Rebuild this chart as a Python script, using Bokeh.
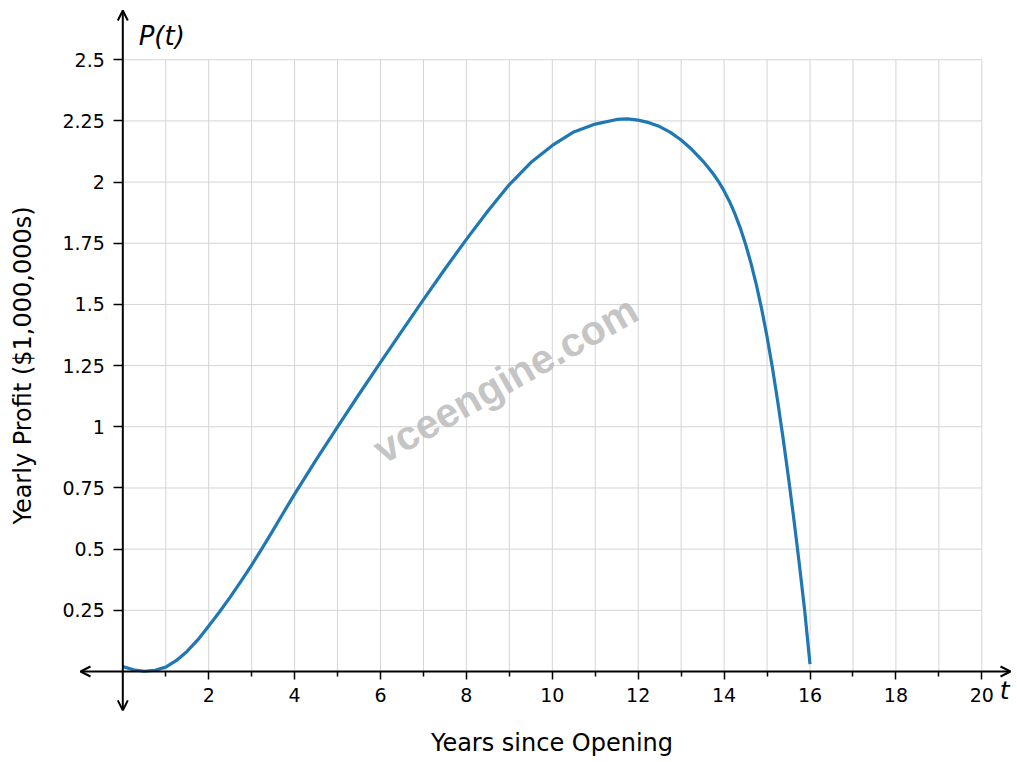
import numpy as np
from bokeh.plotting import figure
from bokeh.models import (Range1d, LinearAxis, FixedTicker, CustomJSTickFormatter,
                          Arrow, OpenHead)
from bokeh.core.properties import value
from bokeh.embed import file_html
from bokeh.resources import INLINE

# ---- data ----
t_years = [0, 0.25, 0.5, 0.75, 1, 1.25, 1.5, 1.75, 2, 2.25, 2.5, 2.75, 3, 3.25,
           3.5, 3.75, 4, 4.5, 5, 5.5, 6, 6.5, 7, 7.5, 8, 8.5, 9, 9.5, 10, 10.5,
           11, 11.5, 11.75, 12, 12.25, 12.5, 12.75, 13, 13.25, 13.5, 13.625,
           13.75, 13.875, 14, 14.125, 14.25, 14.375, 14.5, 14.625, 14.75, 14.875,
           15, 15.125, 15.25, 15.375, 15.5, 15.625, 15.75, 15.875, 16]
profit = [0.02, 0.007, 0.001, 0.005, 0.018, 0.045, 0.083, 0.13, 0.186, 0.243,
          0.304, 0.368, 0.435, 0.505, 0.578, 0.652, 0.725, 0.865, 1.0, 1.133,
          1.263, 1.392, 1.52, 1.645, 1.766, 1.882, 1.99, 2.08, 2.15, 2.205,
          2.237, 2.256, 2.258, 2.253, 2.243, 2.227, 2.203, 2.172, 2.133, 2.087,
          2.061, 2.033, 2.001, 1.964, 1.921, 1.871, 1.813, 1.746, 1.669, 1.581,
          1.481, 1.368, 1.241, 1.101, 0.951, 0.791, 0.621, 0.441, 0.251, 0.03]

x_major_ticks = [2, 4, 6, 8, 10, 12, 14, 16, 18, 20]
x_minor_ticks = [1, 3, 5, 7, 9, 11, 13, 15, 17, 19]
x_grid_values = list(range(1, 21))
y_ticks = [0.25, 0.5, 0.75, 1, 1.25, 1.5, 1.75, 2, 2.25, 2.5]
x_label = "Years since Opening"
y_label = "Yearly Profit ($1,000,000s)"
y_var_label = "P(t)"
x_var_label = "t"
watermark_text = "vceengine.com"

X_MAX = 20
Y_MAX = 2.5

W, H = 1017, 762
p = figure(width=W, height=H, output_backend="svg", toolbar_location=None,
           x_range=Range1d(-2.8475, 20.831), y_range=Range1d(-0.3719, 2.7421),
           x_axis_type=None, y_axis_type=None, min_border=0,
           background_fill_color="white", border_fill_color="white")
p.outline_line_color = None

# grid (bounded to the first quadrant box)
gx = np.array(x_grid_values, dtype=float)
p.segment(x0=gx, y0=np.zeros_like(gx), x1=gx, y1=np.full_like(gx, Y_MAX),
          line_color="#d4d4d4", line_width=1)
gy = np.array(y_ticks, dtype=float)
p.segment(x0=np.zeros_like(gy), y0=gy, x1=np.full_like(gy, X_MAX), y1=gy,
          line_color="#d4d4d4", line_width=1)

# watermark
p.text(x=[8.91], y=[1.193], text=[watermark_text], angle=0.515,
       text_font=value("Liberation Sans"), text_font_style="bold",
       text_font_size="41px", text_color="#bdbdbd", text_alpha=0.9,
       text_align="center", text_baseline="middle")

# curve
p.line(t_years, profit, line_color="#1f77b4", line_width=3.2,
       line_join="round")

# axes through the origin
fmt = CustomJSTickFormatter(code="return String(tick)")

xaxis = LinearAxis(fixed_location=0, bounds=(0, X_MAX),
                   ticker=FixedTicker(ticks=x_major_ticks, minor_ticks=x_minor_ticks),
                   formatter=fmt, axis_label=x_label)
yaxis = LinearAxis(fixed_location=0, bounds=(0, Y_MAX),
                   ticker=FixedTicker(ticks=y_ticks, minor_ticks=[]),
                   formatter=fmt, axis_label=y_label)
for ax in (xaxis, yaxis):
    ax.axis_line_color = None
    ax.major_tick_in = 0
    ax.minor_tick_in = 0
    ax.major_tick_line_color = "black"
    ax.major_tick_line_width = 1.5
    ax.minor_tick_line_color = "black"
    ax.minor_tick_line_width = 1.5
    ax.major_label_text_font = "DejaVu Sans"
    ax.major_label_text_font_size = "19px"
    ax.major_label_text_color = "black"
    ax.axis_label_text_font = "DejaVu Sans"
    ax.axis_label_text_font_size = "24px"
    ax.axis_label_text_font_style = "normal"
    ax.axis_label_text_color = "black"
xaxis.major_tick_out = 8
xaxis.minor_tick_out = 5
xaxis.major_label_standoff = 9
xaxis.axis_label_standoff = 23
yaxis.major_tick_out = 9
yaxis.major_label_standoff = 9
yaxis.axis_label_standoff = 22
p.add_layout(xaxis, "below")
p.add_layout(yaxis, "left")

# axis lines with open arrow heads
for (xe, ye) in [(20.668, 0), (-0.985, 0), (0, 2.701), (0, -0.159)]:
    p.add_layout(Arrow(x_start=0, y_start=0, x_end=xe, y_end=ye,
                       line_color="black", line_width=2,
                       end=OpenHead(size=10, line_width=2, line_color="black")))

# variable labels
p.text(x=[0.37], y=[2.599], text=[y_var_label], text_font=value("DejaVu Sans"),
       text_font_style="italic", text_font_size="26px", text_color="black",
       text_align="left", text_baseline="alphabetic")
p.text(x=[20.53], y=[-0.078], text=[x_var_label], text_font=value("DejaVu Sans"),
       text_font_style="italic", text_font_size="25px", text_color="black",
       text_align="center", text_baseline="alphabetic")

open("out.html", "w").write(file_html(p, INLINE))
